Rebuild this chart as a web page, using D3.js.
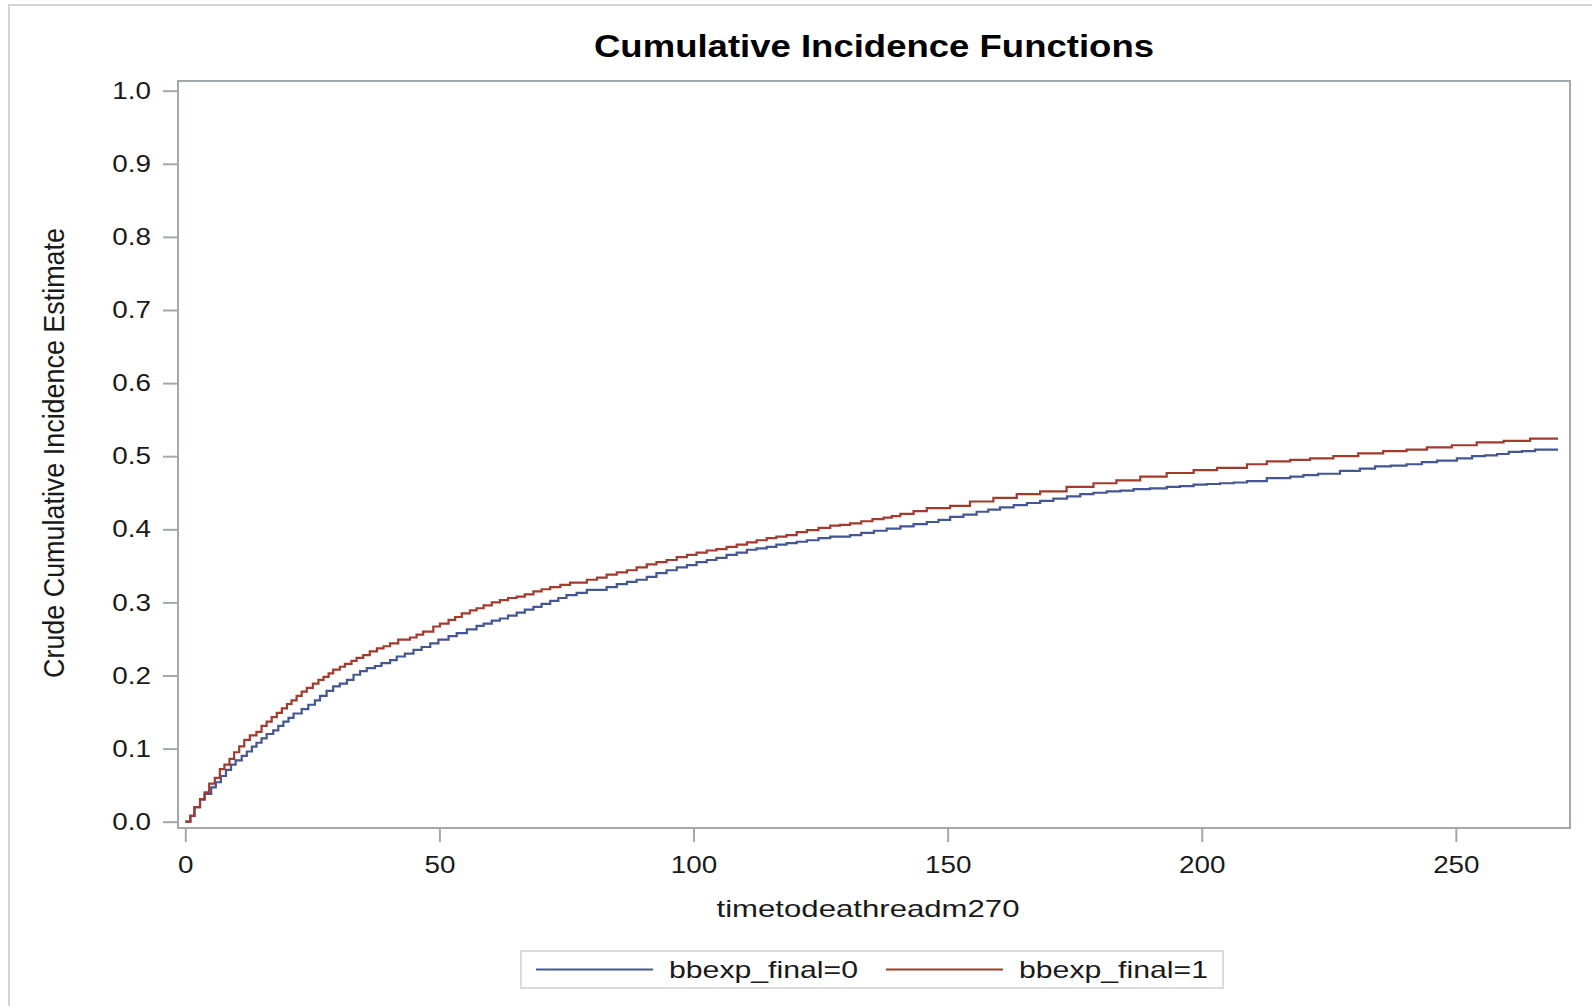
<!DOCTYPE html>
<html>
<head>
<meta charset="utf-8">
<script src="https://cdn.jsdelivr.net/npm/d3@7"></script>
<style>
  html, body { margin: 0; padding: 0; background: #fff; }
  svg { display: block; }
  text { font-family: "Liberation Sans", Arial, sans-serif; }
</style>
</head>
<body>
<svg id="chart" width="1592" height="1006"></svg>
<script>
// ---- Data ----
const chartTitle = "Cumulative Incidence Functions";
const xTitle = "timetodeathreadm270";
const yTitle = "Crude Cumulative Incidence Estimate";
const seriesNames = ["bbexp_final=0", "bbexp_final=1"];
const xTickValues = [0, 50, 100, 150, 200, 250];
const yTickValues = [0, 0.1, 0.2, 0.3, 0.4, 0.5, 0.6, 0.7, 0.8, 0.9, 1.0];

// bbexp_final=0 (blue)
const timesGroup0 = [0, 1, 1.8, 2.9, 3.8, 5.1, 6, 7, 8, 9, 9.9, 11.1, 12.1, 13.1, 14, 15, 16, 17.3, 18.3, 19.3,
  20.3, 21.3, 22.9, 24.2, 25.5, 26.5, 27.8, 29.1, 30.4, 31.8, 33.1, 34.4, 35.7, 37.3, 38.6, 40.3, 41.6, 43.2,
  44.9, 46.5, 48.2, 49.8, 51.8, 53.4, 55.4, 57.3, 58.7, 60.3, 61.9, 63.5, 65.2, 66.8, 68.5, 70.1, 71.8, 73.4,
  75, 77, 79, 82.9, 84.9, 86.9, 88.8, 90.8, 92.7, 94.7, 96.7, 98.7, 100.6, 102.6, 104.5, 106.5, 108.5, 110.5,
  112.4, 114.4, 116.3, 118.3, 120.3, 122.3, 124.6, 126.9, 130.8, 133, 135.5, 138, 140.7, 143.3, 145.9, 148.2,
  150.5, 153.1, 155.7, 158, 160.3, 163, 165.6, 168.2, 170.8, 173.5, 176.1, 178.7, 181.3, 184, 186.6, 189.8,
  193.1, 195.7, 198.4, 201, 203.6, 206.3, 208.9, 212.8, 217.4, 220, 222.9, 227.2, 231.1,
  234.1, 237.2, 240.3, 243.3, 246.3, 250.2, 253.2, 255.7, 258.1, 260.4, 263, 265.6, 270.1];
const cifGroup0 = [0, 0.008, 0.020, 0.030, 0.038, 0.047, 0.054, 0.0625, 0.071, 0.078, 0.084, 0.090, 0.096, 0.1026,
  0.108, 0.114, 0.120, 0.125, 0.131, 0.137, 0.142, 0.148, 0.154, 0.160, 0.166, 0.172, 0.179, 0.185, 0.189,
  0.194, 0.201, 0.206, 0.210, 0.213, 0.217, 0.221, 0.226, 0.230, 0.235, 0.239, 0.244, 0.249, 0.254, 0.258,
  0.263, 0.268, 0.271, 0.275, 0.278, 0.282, 0.286, 0.290, 0.294, 0.298, 0.302, 0.306, 0.310, 0.313, 0.317,
  0.321, 0.325, 0.328, 0.331, 0.335, 0.340, 0.344, 0.348, 0.351, 0.355, 0.358, 0.361, 0.365, 0.368, 0.372,
  0.374, 0.376, 0.379, 0.381, 0.383, 0.385, 0.388, 0.390, 0.392, 0.395, 0.398, 0.401, 0.404, 0.407, 0.410, 0.413,
  0.417, 0.420, 0.424, 0.427, 0.430, 0.433, 0.436, 0.439, 0.442, 0.445, 0.448, 0.450, 0.452, 0.453, 0.455, 0.456,
  0.458, 0.459, 0.461, 0.462, 0.463, 0.464, 0.466, 0.470, 0.472, 0.474, 0.476, 0.480,
  0.483, 0.486, 0.487, 0.489, 0.492, 0.494, 0.497, 0.500, 0.501, 0.503, 0.506, 0.507, 0.509, 0.509];

// bbexp_final=1 (red)
const timesGroup1 = [0, 1, 1.8, 2.9, 3.8, 4.7, 5.8, 6.8, 7.7, 8.7, 9.6, 10.6, 11.6, 12.7, 14, 15, 16, 17, 18, 19,
  20, 20.9, 21.9, 22.9, 23.9, 25.1, 26.2, 27.2, 28.2, 29.1, 30.4, 31.4, 32.7, 33.7, 35, 36.3, 37.7, 39, 40.3,
  41.9, 44.2, 45.5, 46.8, 48.8, 50.1, 51.8, 53.1, 54.4, 56, 57.3, 58.7, 60.3, 61.9, 63.5, 65.2, 66.8, 68.5,
  70.1, 71.8, 73.8, 75.7, 79, 81, 82.9, 84.9, 86.9, 88.8, 90.8, 92.7, 94.7, 96.7, 98.7, 100.6, 102.6, 104.5,
  106.5, 108.5, 110.5, 112.4, 114.4, 116.3, 118.3, 120.3, 122.3, 124.6, 126.9, 128.8, 130.8, 133, 135.2,
  137.4, 139, 140.7, 143.3, 145.9, 150.5, 154.4, 159, 163.6, 168.2, 173.4, 178.7, 183.2, 187.9, 193.1, 198.4,
  203, 208.9, 212.8, 217.4, 221.3, 225.9, 230.8, 235.7, 240.3, 244.3, 249.2, 254.1, 259.4, 264.6, 270.1];
const cifGroup1 = [0, 0.008, 0.020, 0.031, 0.040, 0.052, 0.060, 0.072, 0.078, 0.086, 0.095, 0.103, 0.112, 0.118,
  0.123, 0.131, 0.137, 0.143, 0.149, 0.155, 0.161, 0.166, 0.172, 0.178, 0.183, 0.189, 0.194, 0.198, 0.203,
  0.208, 0.212, 0.216, 0.220, 0.224, 0.228, 0.233, 0.237, 0.240, 0.244, 0.249, 0.252, 0.256, 0.260, 0.267,
  0.271, 0.276, 0.280, 0.285, 0.289, 0.292, 0.296, 0.300, 0.303, 0.306, 0.308, 0.311, 0.315, 0.318, 0.321,
  0.324, 0.327, 0.331, 0.334, 0.338, 0.341, 0.344, 0.348, 0.352, 0.355, 0.358, 0.362, 0.365, 0.368, 0.371,
  0.373, 0.376, 0.379, 0.382, 0.385, 0.388, 0.390, 0.392, 0.396, 0.399, 0.402, 0.405, 0.406, 0.408, 0.411,
  0.414, 0.416, 0.418, 0.421, 0.425, 0.429, 0.432, 0.438, 0.443, 0.448, 0.452, 0.458, 0.463, 0.467, 0.472,
  0.477, 0.481, 0.484, 0.489, 0.493, 0.495, 0.497, 0.500, 0.504, 0.507, 0.509, 0.512, 0.515, 0.519, 0.521,
  0.524, 0.524];

const seriesColors = ["#445694", "#A23A2E"];

// ---- Layout ----
const svg = d3.select("#chart");
const frame = { left: 178, right: 1570, top: 81, bottom: 828 };
const axisColor = "#A3A8AD";
const textColor = "#1a1a1a";

const x = d3.scaleLinear().domain([0, 270]).range([185.3, 1557.5]);
const y = d3.scaleLinear().domain([0, 1]).range([821.7, 90.7]);

// Outer light border
svg.append("rect")
  .attr("x", 9).attr("y", 5).attr("width", 1700).attr("height", 1100)
  .attr("fill", "none").attr("stroke", "#D4D4D4").attr("stroke-width", 2);

// helper: stretch text horizontally
function stretch(sel, factor, targetWidth) {
  sel.each(function () {
    const w = this.getComputedTextLength();
    const tw = targetWidth != null ? targetWidth : w * factor;
    d3.select(this).attr("textLength", tw).attr("lengthAdjust", "spacingAndGlyphs");
  });
}

// Title
const title = svg.append("text")
  .attr("x", 874).attr("y", 57)
  .attr("text-anchor", "middle")
  .attr("font-size", 32).attr("font-weight", "bold")
  .attr("fill", "#000")
  .text(chartTitle);
stretch(title, 1, 560);

// Plot frame
svg.append("rect")
  .attr("x", frame.left).attr("y", frame.top)
  .attr("width", frame.right - frame.left).attr("height", frame.bottom - frame.top)
  .attr("fill", "none").attr("stroke", axisColor).attr("stroke-width", 2);

// Y axis
const yAxis = d3.axisLeft(y).tickValues(yTickValues).tickFormat(d3.format(".1f"))
  .tickSize(15).tickPadding(12);
const yG = svg.append("g").attr("transform", `translate(${frame.left},0)`).call(yAxis);
yG.select(".domain").remove();
yG.selectAll(".tick line").attr("stroke", axisColor).attr("stroke-width", 2);
yG.selectAll(".tick text").attr("font-size", 24).attr("fill", textColor)
  .attr("font-family", "'Liberation Sans', Arial, sans-serif");
stretch(yG.selectAll(".tick text"), 1.16);

// X axis
const xAxis = d3.axisBottom(x).tickValues(xTickValues).tickFormat(d3.format("d"))
  .tickSize(14).tickPadding(14);
const xG = svg.append("g").attr("transform", `translate(0,${frame.bottom})`).call(xAxis);
xG.select(".domain").remove();
xG.selectAll(".tick line").attr("stroke", axisColor).attr("stroke-width", 2);
xG.selectAll(".tick text").attr("font-size", 24).attr("fill", textColor)
  .attr("font-family", "'Liberation Sans', Arial, sans-serif");
stretch(xG.selectAll(".tick text"), 1.16);

// Axis titles
const xt = svg.append("text")
  .attr("x", 868).attr("y", 917)
  .attr("text-anchor", "middle")
  .attr("font-size", 24).attr("fill", textColor)
  .text(xTitle);
stretch(xt, 1, 303);

const yt = svg.append("g")
  .attr("transform", "translate(64,453) scale(1.15,1) rotate(-90)")
  .append("text")
  .attr("x", 0).attr("y", 0)
  .attr("text-anchor", "middle")
  .attr("font-size", 26).attr("fill", textColor)
  .text(yTitle);
stretch(yt, 1, 450);

// Curves
const line = d3.line()
  .x(d => x(d[0]))
  .y(d => y(d[1]))
  .curve(d3.curveStepAfter);

const series = [
  { name: seriesNames[0], color: seriesColors[0], pts: d3.zip(timesGroup0, cifGroup0) },
  { name: seriesNames[1], color: seriesColors[1], pts: d3.zip(timesGroup1, cifGroup1) }
];

svg.append("g").selectAll("path")
  .data(series)
  .join("path")
  .attr("d", d => line(d.pts))
  .attr("fill", "none")
  .attr("stroke", d => d.color)
  .attr("stroke-width", 2.2)
  .attr("stroke-linejoin", "miter");

// Legend
svg.append("rect")
  .attr("x", 521).attr("y", 951).attr("width", 702).attr("height", 37)
  .attr("fill", "#fff").attr("stroke", "#CFCFCF").attr("stroke-width", 1.5);

const legendItems = [
  { name: seriesNames[0], color: seriesColors[0], x1: 536, x2: 653, tx: 669 },
  { name: seriesNames[1], color: seriesColors[1], x1: 886, x2: 1003, tx: 1019 }
];
const lg = svg.append("g");
legendItems.forEach(it => {
  lg.append("line")
    .attr("x1", it.x1).attr("x2", it.x2).attr("y1", 969.5).attr("y2", 969.5)
    .attr("stroke", it.color).attr("stroke-width", 2);
  const t = lg.append("text")
    .attr("x", it.tx).attr("y", 978)
    .attr("font-size", 24).attr("fill", textColor)
    .text(it.name);
  stretch(t, 1, 189);
});
</script>
</body>
</html>
